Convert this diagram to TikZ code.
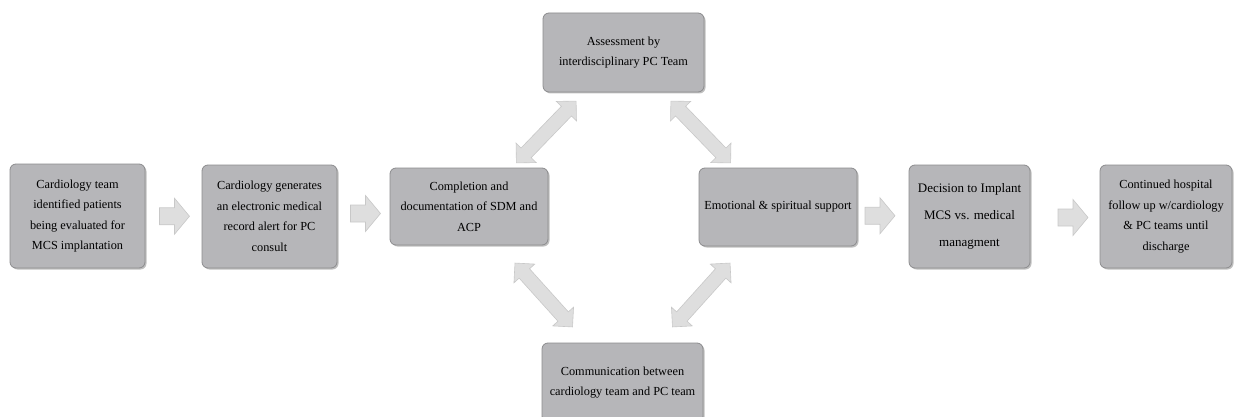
\documentclass[tikz,border=0pt]{standalone}
\usepackage{fontspec}
\setmainfont{Liberation Serif}
\usetikzlibrary{shadows,calc}
\definecolor{boxfill}{RGB}{182,182,185}
\definecolor{boxline}{RGB}{140,140,142}
\definecolor{arrfill}{RGB}{222,222,222}
\definecolor{arrline}{RGB}{200,200,200}
\begin{document}
\begin{tikzpicture}[x=1pt,y=-1pt,
  box/.style={draw=boxline, line width=0.8pt, fill=boxfill, rounded corners=6pt,
    align=center, font=\fontsize{12.3}{20.5}\selectfont, inner sep=2pt,
    drop shadow={shadow xshift=1.5pt, shadow yshift=-1.5pt, fill=black!50, opacity=.5}},
  arrstyle/.style={fill=arrfill, draw=arrline, line width=0.6pt, line join=miter},
  rarrow/.pic={\path[arrstyle] (-15,-8.5) -- (0,-8.5) -- (0,-18) -- (15,0) -- (0,18) -- (0,8.5) -- (-15,8.5) -- cycle;},
  darrow/.pic={\path[arrstyle] (-43,0) -- (-29,-14) -- (-29,-7) -- (29,-7) -- (29,-14) -- (43,0) -- (29,14) -- (29,7) -- (-29,7) -- (-29,14) -- cycle;}
]
\path[use as bounding box] (0,0) rectangle (1234,417);
\clip (0,0) rectangle (1234,417);

\node[box, minimum width=135pt, minimum height=104pt] (b1) at (77.5,216) {Cardiology team\\identified patients\\being evaluated for\\MCS implantation};
\node[box, minimum width=135pt, minimum height=103pt] (b2) at (269.5,216.5) {Cardiology generates\\an electronic medical\\record alert for PC\\consult};
\node[box, minimum width=158pt, minimum height=77pt] (b3) at (469,206.5) {Completion and\\documentation of SDM and\\ACP};
\node[box, minimum width=161pt, minimum height=79pt] (b4) at (623.5,52.5) {Assessment by\\interdisciplinary PC Team};
\node[box, minimum width=161pt, minimum height=79pt] (b5) at (622.5,382.5) {Communication between\\cardiology team and PC team};
\node[box, minimum width=158pt, minimum height=78pt] (b6) at (778,207) {Emotional \& spiritual support};
\node[box, minimum width=121pt, minimum height=103pt, font=\fontsize{13}{27}\selectfont] (b7) at (969.5,216.5) {Decision to Implant\\MCS vs. medical\\managment};
\node[box, minimum width=132pt, minimum height=103pt] (b8) at (1166,216.5) {Continued hospital\\follow up w/cardiology\\\& PC teams until\\discharge};

\pic at ($(b1.east)!0.5!(b2.west)+(1,0)$) {rarrow};
\pic at ($(b2.east)!0.5!(b3.west)+(2,2)$) {rarrow};
\pic at ($(b6.east)!0.5!(b7.west)+(-3,4)$) {rarrow};
\pic at ($(b7.east)!0.5!(b8.west)+(8,1)$) {rarrow};

\pic[rotate=46] at ($(b3.north)!0.5!(b4.south)+(0,2)$) {darrow};
\pic[rotate=-46] at ($(b4.south)!0.5!(b6.north)+(0,2)$) {darrow};
\pic[rotate=-48] at ($(b3.south)!0.5!(b5.north)+(-2,1)$) {darrow};
\pic[rotate=48] at ($(b6.south)!0.5!(b5.north)+(1,0.5)$) {darrow};
\end{tikzpicture}
\end{document}
